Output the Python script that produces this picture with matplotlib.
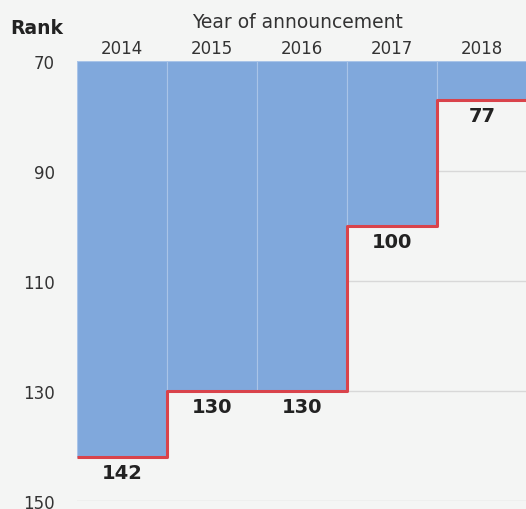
import matplotlib.pyplot as plt
import numpy as np

years = ['2014', '2015', '2016', '2017', '2018']
rank = [142, 130, 130, 100, 77]
yticks = [70, 90, 110, 130, 150]

plt.rcParams['font.family'] = ['DejaVu Sans']

fig = plt.figure(figsize=(5.26, 5.10), dpi=100, facecolor='#f4f5f4')
ax = fig.add_axes([77 / 526, 8 / 510, 1 - 77 / 526, (502 - 62) / 510])
ax.set_facecolor('#f4f5f4')

x = np.arange(len(years))
top = 70
ax.bar(x, np.array(rank) - top, bottom=top, width=1.0, color='#80a8dc',
       edgecolor='#a9c4e8', linewidth=0.8, zorder=2)

# red step line along the bottom of the bars
sx = np.concatenate([[x[0] - 0.5], np.repeat(x[1:] - 0.5, 2), [x[-1] + 0.5]])
sy = np.repeat(rank, 2)
ax.plot(sx, sy, color='#d9434b', linewidth=2.2, zorder=3, solid_capstyle='butt')

for xi, r in zip(x, rank):
    ax.text(xi, r + 2.85, str(r), ha='center', va='center', fontsize=14,
            fontweight='bold', color='#222222', zorder=4)

ax.set_ylim(150, 70)
ax.set_xlim(-0.5, 4.49)
ax.set_yticks(yticks)
ax.yaxis.grid(True, color='#d8d8d8', linewidth=1, zorder=0)
ax.tick_params(axis='y', length=0, pad=16, labelsize=12, labelcolor='#333333')
ax.set_xticks(x)
ax.set_xticklabels(years)
ax.xaxis.tick_top()
ax.tick_params(axis='x', length=0, pad=3, labelsize=12, labelcolor='#333333')
for s in ax.spines.values():
    s.set_visible(False)

fig.text(10 / 526, 1 - 29 / 510, 'Rank', fontsize=13.5, fontweight='bold',
         color='#222222', va='center', ha='left')
fig.text(298 / 526, 1 - 22 / 510, 'Year of announcement', fontsize=13.5,
         color='#333333', va='center', ha='center')

fig.savefig('out.png', dpi=100, facecolor=fig.get_facecolor())
